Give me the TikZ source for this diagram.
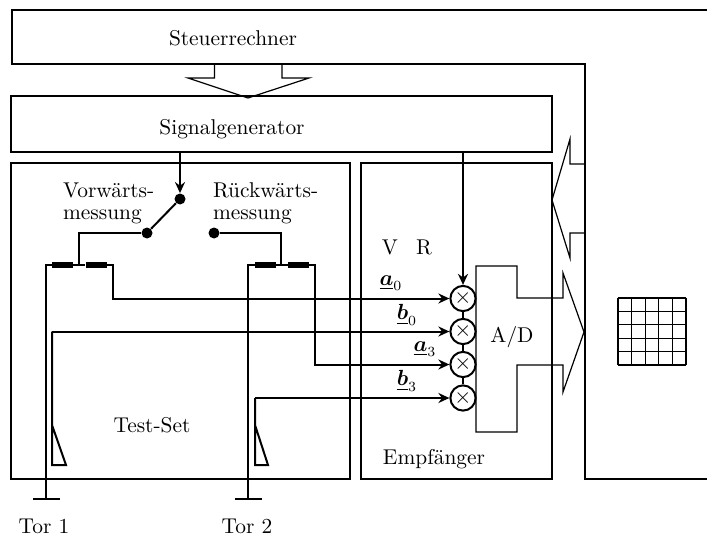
\documentclass[tikz,border=0pt]{standalone}
\usepackage{amsmath}
\usetikzlibrary{arrows.meta}
\tikzset{
	every node/.style={font=\fontsize{10.7}{13}\selectfont},
	box/.style={draw, line width=1pt, rectangle, inner sep=0pt, anchor=north west},
	wire/.style={line width=1pt},
	sig/.style={line width=1pt, -{Stealth[length=5.5pt,width=5pt]}},
	outline/.style={line width=0.6pt},
	contact/.style={circle, fill=black, inner sep=0pt, minimum size=5.5pt},
	resistor/.style={rectangle, fill=black, inner sep=0pt, minimum width=10.5pt, minimum height=2.8pt},
	gndbar/.style={rectangle, fill=black, inner sep=0pt, minimum width=13.5pt, minimum height=1pt},
	mixer/.style={draw, line width=1pt, circle, inner sep=0pt, minimum size=12.6pt},
}
\begin{document}
\begin{tikzpicture}[x=0.5pt, y=-0.5pt]
			\useasboundingbox (0,0) rectangle (707,535);
			% Steuerrechner
			\draw[wire] (707,10) -- (12,10) -- (12,64) -- (584.5,64) -- (584.5,478.5) -- (707,478.5);
			\node (steuer) at (233,38) {Steuerrechner};
			\draw[outline] (214.5,64) -- (214.5,78) -- (188,78) -- (248,98) -- (309,78) -- (282,78) -- (282,64);
			% boxes
			\node[box, minimum width=270.75pt, minimum height=28pt]    (siggen)  at (9.5,95)  {};
			\node[box, minimum width=169.5pt, minimum height=157.75pt] (testset) at (10,162)  {};
			\node[box, minimum width=95.35pt, minimum height=157.75pt] (empf)    at (360,162) {};
			\node (siggenlabel)  at (232,129) {Signalgenerator};
			\node (testsetlabel) at (152,425) {Test-Set};
			\node (empflabel)    at (434,459) {Empf\"anger};
			% switch
			\node[contact] (swC) at (180,199) {};
			\node[contact] (swV) at (147,233) {};
			\node[contact] (swR) at (214,233) {};
			\node[anchor=west] (vorlabel)  at (56,190)  {Vorw\"arts-};
			\node[anchor=west] (vorlabelb) at (56,217)  {messung};
			\node[anchor=west] (rueclabel)  at (206,190) {R\"uckw\"arts-};
			\node[anchor=west] (rueclabelb) at (206,217) {messung};
			\draw[sig]  (siggen.south -| swC) -- (swC);
			\draw[wire] (swC) -- (swV);
			% couplers
			\node[resistor] (resVa) at (62.5,265) {};
			\node[resistor] (resVb) at (96,265)   {};
			\node[resistor] (resRa) at (265.5,265) {};
			\node[resistor] (resRb) at (298.5,265) {};
			\node[gndbar] (torA) at (46,499)  {};
			\node[gndbar] (torB) at (248,499) {};
			\node (toralabel) at (44,526)  {Tor 1};
			\node (torblabel) at (247,526) {Tor 2};
			\coordinate (juncV) at (79,265);
			\coordinate (juncR) at (281,265);
			\draw[wire] (swV) -| (juncV);
			\draw[wire] (swR) -| (juncR);
			\draw[wire] (torA) -- (46,265) -- (resVa) -- (resVb);
			\draw[wire] (torB) -- (248,265) -- (resRa) -- (resRb);
			% mixers
			\foreach \name/\y in {mixa/298.5, mixb/331.5, mixc/364.5, mixd/398}
				\node[mixer] (\name) at (463,\y) {$\times$};
			\draw[wire] (mixa) -- (mixb) -- (mixc) -- (mixd);
			\draw[sig] (siggen.south -| mixa) -- (mixa);
			\draw[sig] (resVb) -- (113,265) |- (mixa);
			\draw[sig] (resRb) -- (315,265) |- (mixc);
			\draw[sig] (mixb -| 52,331.5) -- (mixb);
			\draw[sig] (mixd -| 255,398) -- (mixd);
			% load triangles
			\draw[wire] (52,331.5) -- (52,465) -- (66,465) -- (52,425);
			\draw[wire] (255,398) -- (255,465) -- (268,465) -- (255,425);
			\node (vlabel) at (390,247) {V};
			\node (rlabel) at (424,247) {R};
			\node (alabel)  at (391,283) {$\underline{\boldsymbol{a}}_0$};
			\node (blabel)  at (407,315) {$\underline{\boldsymbol{b}}_0$};
			\node (clabel)  at (425,349) {$\underline{\boldsymbol{a}}_3$};
			\node (dlabel)  at (407,381) {$\underline{\boldsymbol{b}}_3$};
			% A/D with data arrows
			\draw[outline] (476,266) -- (517,266) -- (517,298) -- (563,298) -- (563,273) -- (584,332) -- (563,392) -- (563,365) -- (517,365) -- (517,432) -- (476,432) -- cycle;
			\node (adlabel) at (512,337) {A/D};
			\draw[outline] (584,164) -- (570,164) -- (570,139) -- (552,200) -- (570,258) -- (570,233) -- (584,233);
			% matrix
			\foreach \i in {0,...,5} {
				\draw[outline] (618+13.6*\i,298) -- (618+13.6*\i,365);
				\draw[outline] (618,298+13.4*\i) -- (686,298+13.4*\i);
			}
		\end{tikzpicture}
\end{document}
